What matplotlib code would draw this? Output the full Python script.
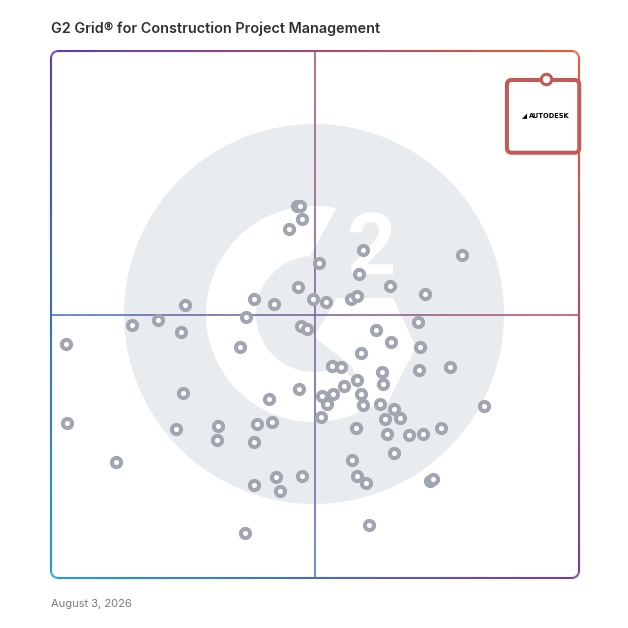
import numpy as np
import matplotlib
matplotlib.use("Agg")
import matplotlib.pyplot as plt
from matplotlib.collections import LineCollection
from matplotlib.patches import Circle, Polygon, FancyBboxPatch
from matplotlib.colors import to_rgb

# ================== data (scores, 0-100 on both axes) ================== #
title = "G2 Grid\u00ae for Construction Project Management"
date_label = "August 3, 2026"

satisfaction = [46.5, 47.2, 47.5, 45.1, 59.1, 77.9, 50.8, 58.4, 46.8, 64.2,
                70.8, 25.4, 38.5, 42.3, 49.6, 52.0, 56.8, 57.9, 37.0, 20.2,
                15.3, 24.6, 47.3, 48.5, 69.5, 61.5, 64.3, 69.8, 35.8, 58.7,
                53.2, 54.9, 75.6, 69.7, 62.7, 62.9, 57.9, 55.4, 58.8, 53.4,
                51.3, 52.3, 59.1, 47.0, 25.0, 41.3, 62.3, 64.9, 82.0, 63.3,
                66.1, 51.1, 23.7, 31.6, 31.4, 39.0, 41.9, 38.4, 57.8, 63.6,
                67.8, 70.5, 73.9, 64.9, 12.3, 57.0, 57.9, 59.7, 71.8, 72.3,
                42.7, 47.5, 38.4, 43.4, 2.8, 3.0, 36.7, 60.2]
presence = [70.5, 70.6, 68.1, 66.2, 62.2, 61.2, 59.7, 57.7, 55.3, 55.4,
            53.9, 51.8, 52.9, 51.9, 52.9, 52.3, 52.9, 53.6, 49.6, 49.0,
            48.1, 46.7, 47.8, 47.3, 48.5, 47.1, 44.7, 43.8, 43.8, 42.6,
            40.2, 40.0, 40.0, 39.5, 39.0, 36.8, 37.5, 36.5, 35.0, 35.0,
            34.5, 33.1, 32.8, 35.8, 35.1, 33.9, 33.0, 32.1, 32.7, 30.2,
            30.3, 30.5, 28.2, 28.8, 26.1, 29.2, 29.6, 25.8, 28.5, 27.4,
            27.2, 27.4, 28.4, 23.8, 22.0, 22.3, 19.4, 18.0, 18.4, 18.8,
            19.2, 19.3, 17.6, 16.6, 44.4, 29.4, 8.5, 10.1]

leader_name = "AUTODESK"
leader_x = 93.75
leader_y = 94.7

# ================== style ================== #
W = H = 628
FX0, FX1, FY0, FY1 = 51, 579, 51, 578   # frame in pixels
corner = {"tl": "#5a3fb4", "tr": "#f2582f", "bl": "#1c9fda", "br": "#7a3a9c"}
dot_color = "#a1a5af"
bg_gray = "#e9ecef"
leader_color = "#c15b58"


def frame_color(px, py):
	u = (px - FX0) / (FX1 - FX0)
	v = (py - FY0) / (FY1 - FY0)
	tl, tr = np.array(to_rgb(corner["tl"])), np.array(to_rgb(corner["tr"]))
	bl, br = np.array(to_rgb(corner["bl"])), np.array(to_rgb(corner["br"]))
	top = tl * (1 - u) + tr * u
	bot = bl * (1 - u) + br * u
	return np.clip(top * (1 - v) + bot * v, 0, 1)


def gradient_line(ax, pts, lw, alpha=1.0, z=3):
	pts = np.array(pts)
	segs = np.stack([pts[:-1], pts[1:]], axis=1)
	mids = (pts[:-1] + pts[1:]) / 2
	cols = [tuple(frame_color(x, y)) + (alpha,) for x, y in mids]
	ax.add_collection(LineCollection(segs, colors=cols, linewidths=lw,
	                                 capstyle="butt", joinstyle="round", zorder=z))


def rounded_rect(x0, y0, x1, y1, r, n=60):
	pts = []
	def arc(cx, cy, a0, a1):
		for a in np.linspace(a0, a1, 10)[1:-1]:
			pts.append((cx + r * np.cos(np.radians(a)), cy - r * np.sin(np.radians(a))))
	# top edge (left to right), then clockwise on screen
	for x in np.linspace(x0 + r, x1 - r, n):
		pts.append((x, y0))
	arc(x1 - r, y0 + r, 90, 0)
	for y in np.linspace(y0 + r, y1 - r, n):
		pts.append((x1, y))
	arc(x1 - r, y1 - r, 0, -90)
	for x in np.linspace(x1 - r, x0 + r, n):
		pts.append((x, y1))
	arc(x0 + r, y1 - r, -90, -180)
	for y in np.linspace(y1 - r, y0 + r, n):
		pts.append((x0, y))
	arc(x0 + r, y0 + r, 180, 90)
	pts.append(pts[0])
	return pts


fig = plt.figure(figsize=(6.28, 6.28), dpi=100)

# ---- background layer in pixel coordinates ----
bg = fig.add_axes([0, 0, 1, 1])
bg.set_xlim(0, W)
bg.set_ylim(H, 0)
bg.axis("off")

cx, cy = 314, 314
bg.add_patch(Circle((cx, cy), 190, color=bg_gray, lw=0, zorder=1))

# G ring of the logo
outer = [(cx + 108 * np.cos(np.radians(a)), cy - 108 * np.sin(np.radians(a)))
         for a in np.linspace(78, 300, 120)]
inner = [(cx + 58 * np.cos(np.radians(a)), cy - 58 * np.sin(np.radians(a)))
         for a in np.linspace(300, 94, 120)]
bg.add_patch(Polygon(outer + inner, closed=True, color="white", lw=0, zorder=2))
# chevron of the logo
bg.add_patch(Polygon([(314, 337), (337, 298), (393, 298), (416, 347), (387, 404),
                      (366, 408), (352, 366)], closed=True, color="white", lw=0, zorder=2))
bg.text(372, 250, "2", color="white", fontsize=62, fontweight="bold",
        family="Roboto", ha="center", va="center", zorder=2)

# frame and quadrant lines
gradient_line(bg, rounded_rect(FX0, FY0, FX1, FY1, 7), lw=1.5)
mx = (FX0 + FX1) / 2
my = (FY0 + FY1) / 2
gradient_line(bg, [(mx, y) for y in np.linspace(FY0, FY1, 200)], lw=1.3, alpha=0.85)
gradient_line(bg, [(x, my) for x in np.linspace(FX0, FX1, 200)], lw=1.3, alpha=0.85)

bg.text(FX0, 29, title, fontsize=10.35, fontweight="semibold", family="Inter",
        color="#2e2e33", ha="left", va="center")
bg.text(FX0, 604, date_label, fontsize=8.0, family="Inter", color="#7a7a80",
        ha="left", va="center")

# ---- data layer ----
ax = fig.add_axes([FX0 / W, 1 - FY1 / H, (FX1 - FX0) / W, (FY1 - FY0) / H])
ax.set_xlim(0, 100)
ax.set_ylim(0, 100)
ax.axis("off")
ax.patch.set_alpha(0)

ax.plot(satisfaction, presence, "o", ms=6.6, mew=2.9, mfc="white", mec=dot_color,
        ls="none", clip_on=False, zorder=4)

# leader box (Autodesk)
bw, bh = 13.7, 13.8
box = FancyBboxPatch((leader_x - 7.4, leader_y - bh - 0.2), bw, bh,
                     boxstyle="round,pad=0,rounding_size=0.9", fc="white",
                     ec=leader_color, lw=2.9, clip_on=False, zorder=5)
ax.add_patch(box)
ax.plot([leader_x], [leader_y], "o", ms=7.5, mew=2.2, mfc="white", mec=leader_color,
        clip_on=False, zorder=6)
ax.text(leader_x - 4.0, leader_y - 7.1, "\u25e2", fontsize=4.8, color="black",
        ha="center", va="center", zorder=6)
ax.text(leader_x + 0.6, leader_y - 7.0, leader_name, fontsize=4.8, fontweight="bold",
        color="black", ha="center", va="center", zorder=6)

fig.savefig("out.png", dpi=100)
